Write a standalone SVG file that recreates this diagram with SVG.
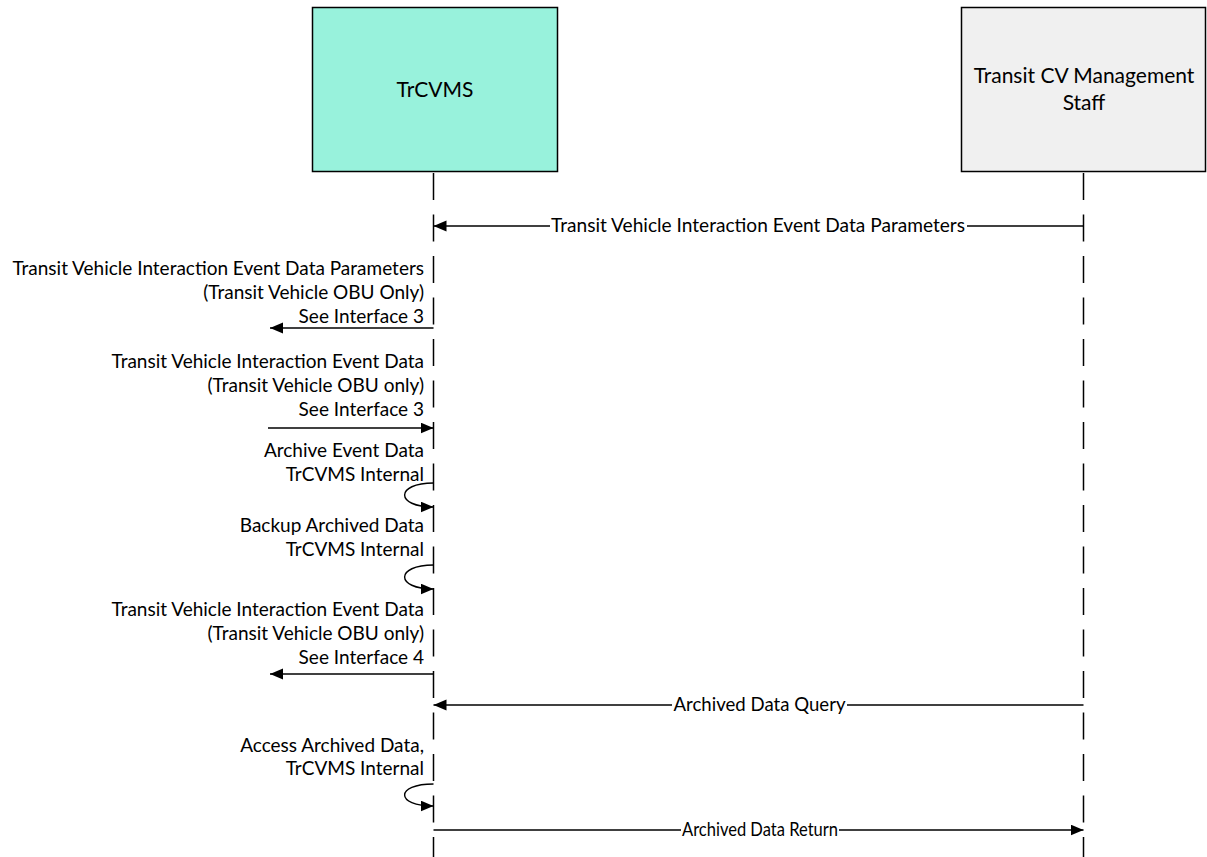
<svg xmlns="http://www.w3.org/2000/svg" width="1207" height="857" viewBox="0 0 1207 857">
  <style>
    .box { stroke: #000; stroke-width: 1.5; }
    .lbl { font-family: Lato, "Liberation Sans", sans-serif; font-size: 19px; fill: #000; }
    .ttl { font-family: Lato, "Liberation Sans", sans-serif; font-size: 21px; fill: #000; text-anchor: middle; }
    .left { text-anchor: end; }
    .mid { text-anchor: middle; }
    .life { stroke: #000; stroke-width: 1.5; stroke-dasharray: 27 14.5; fill: none; }
    .msg { stroke: #000; stroke-width: 1.4; fill: none; }
  </style>
  <defs>
    <marker id="arrow" markerUnits="userSpaceOnUse" markerWidth="14" markerHeight="12" refX="13" refY="5.5" orient="auto">
      <path d="M0,0 L13,5.5 L0,11 z" fill="#000"/>
    </marker>
  </defs>
  <rect width="1207" height="857" fill="#fff"/>

  <g id="trcvms">
    <rect class="box" x="312.5" y="7.5" width="245" height="164" fill="#98F2DC"/>
    <text class="ttl" x="435" y="97">TrCVMS</text>
  </g>

  <g id="staff">
    <rect class="box" x="961.5" y="7.5" width="244" height="164" fill="#F0F0F0"/>
    <text class="ttl" x="1084" y="83">Transit CV Management</text>
    <text class="ttl" x="1084" y="110">Staff</text>
  </g>

  <g id="lifelines">
    <line class="life" x1="433.5" y1="173" x2="433.5" y2="857"/>
    <line class="life" x1="1083.5" y1="173" x2="1083.5" y2="857"/>
  </g>

  <g id="connectors">
    <!-- parameters from staff to TrCVMS -->
    <line class="msg" x1="1083.5" y1="226" x2="967" y2="226"/>
    <line class="msg" x1="550" y1="226" x2="433.5" y2="226" marker-end="url(#arrow)"/>
    <!-- parameters out to the OBU -->
    <line class="msg" x1="433.5" y1="328" x2="270" y2="328" marker-end="url(#arrow)"/>
    <!-- event data in from the OBU -->
    <line class="msg" x1="268" y1="428" x2="433.5" y2="428" marker-end="url(#arrow)"/>
    <!-- internal self calls -->
    <path class="msg" d="M433.5,483 C395,483 395,507 433.5,507" marker-end="url(#arrow)"/>
    <path class="msg" d="M433.5,565 C395,565 395,589 433.5,589" marker-end="url(#arrow)"/>
    <!-- event data out, interface 4 -->
    <line class="msg" x1="433.5" y1="674" x2="270" y2="674" marker-end="url(#arrow)"/>
    <!-- query -->
    <line class="msg" x1="1083.5" y1="705" x2="847" y2="705"/>
    <line class="msg" x1="672" y1="705" x2="433.5" y2="705" marker-end="url(#arrow)"/>
    <path class="msg" d="M433.5,784 C395,784 395,806 433.5,806" marker-end="url(#arrow)"/>
    <!-- return -->
    <line class="msg" x1="433.5" y1="830" x2="681" y2="830"/>
    <line class="msg" x1="839" y1="830" x2="1083.5" y2="830" marker-end="url(#arrow)"/>
  </g>

  <g id="labels">
    <text class="lbl mid" x="758" y="232" textLength="414" lengthAdjust="spacingAndGlyphs">Transit Vehicle Interaction Event Data Parameters</text>

    <text class="lbl left" x="424" y="275">Transit Vehicle Interaction Event Data Parameters</text>
    <text class="lbl left" x="424" y="299">(Transit Vehicle OBU Only)</text>
    <text class="lbl left" x="424" y="323">See Interface 3</text>

    <text class="lbl left" x="424" y="368">Transit Vehicle Interaction Event Data</text>
    <text class="lbl left" x="424" y="392">(Transit Vehicle OBU only)</text>
    <text class="lbl left" x="424" y="416">See Interface 3</text>

    <text class="lbl left" x="424" y="457">Archive Event Data</text>
    <text class="lbl left" x="424" y="481">TrCVMS Internal</text>

    <text class="lbl left" x="424" y="532">Backup Archived Data</text>
    <text class="lbl left" x="424" y="556">TrCVMS Internal</text>

    <text class="lbl left" x="424" y="616">Transit Vehicle Interaction Event Data</text>
    <text class="lbl left" x="424" y="640">(Transit Vehicle OBU only)</text>
    <text class="lbl left" x="424" y="664">See Interface 4</text>

    <text class="lbl mid" x="759.5" y="711" textLength="172" lengthAdjust="spacingAndGlyphs">Archived Data Query</text>

    <text class="lbl left" x="424" y="752">Access Archived Data,</text>
    <text class="lbl left" x="424" y="775">TrCVMS Internal</text>

    <text class="lbl mid" x="760" y="836" textLength="156" lengthAdjust="spacingAndGlyphs">Archived Data Return</text>
  </g>
</svg>
